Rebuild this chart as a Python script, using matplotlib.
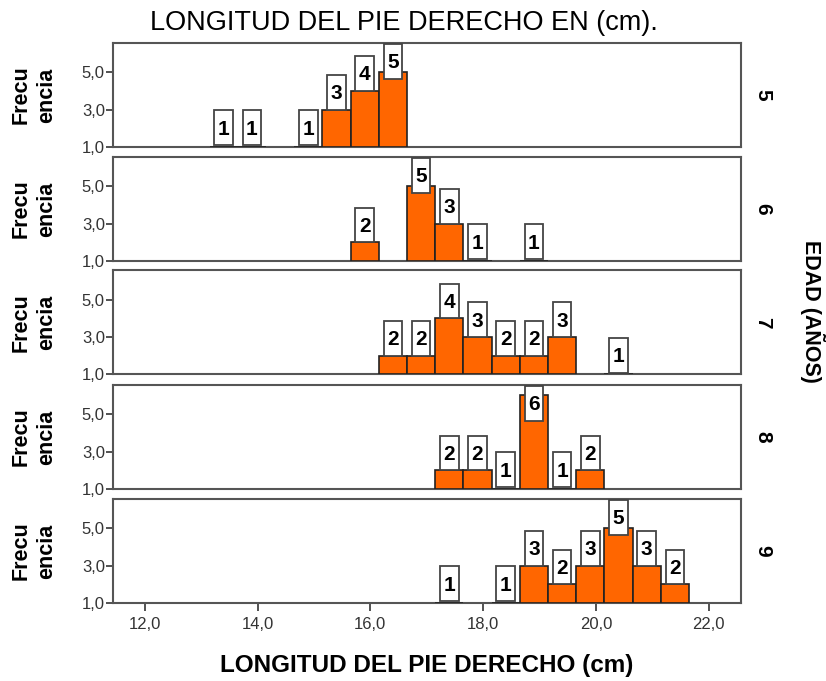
"""Histogramas de longitud del pie derecho por edad."""
import matplotlib
matplotlib.use('Agg')
import matplotlib.pyplot as plt
from matplotlib.patches import Rectangle
from matplotlib.ticker import FuncFormatter

# Datos: centro de clase (cm) y frecuencia, por edad
edades = ['5', '6', '7', '8', '9']
centros = [
    [13.4, 13.9, 14.9, 15.4, 15.9, 16.4],
    [15.9, 16.9, 17.4, 17.9, 18.9],
    [16.4, 16.9, 17.4, 17.9, 18.4, 18.9, 19.4, 20.4],
    [17.4, 17.9, 18.4, 18.9, 19.4, 19.9],
    [17.4, 18.4, 18.9, 19.4, 19.9, 20.4, 20.9, 21.4],
]
frecuencias = [
    [1, 1, 1, 3, 4, 5],
    [2, 5, 3, 1, 1],
    [2, 2, 4, 3, 2, 2, 3, 1],
    [2, 2, 1, 6, 1, 2],
    [1, 1, 3, 2, 3, 5, 3, 2],
]
ancho = 0.5
xticks = [12, 14, 16, 18, 20, 22]
yticks = [1, 3, 5]

plt.rcParams['font.family'] = ['Liberation Sans', 'DejaVu Sans']
naranja = '#ff6600'
gris = '#555555'

fig = plt.figure(figsize=(8.26, 6.81), dpi=100)
left, width, height = 0.137, 0.760, 0.1527
bottoms = [0.7841, 0.6167, 0.4501, 0.2819, 0.1145]
ymin, ymax = 1.0, 6.55
box_w, box_h = 0.33, 1.85

coma = FuncFormatter(lambda v, p: f'{v:.1f}'.replace('.', ','))

for i, (edad, xs, fs) in enumerate(zip(edades, centros, frecuencias)):
    ax = fig.add_axes([left, bottoms[i], width, height])
    ax.bar(xs, [f - 1 for f in fs], width=ancho, bottom=1, color=naranja,
           edgecolor='#222222', linewidth=1.2, zorder=3)
    for x, f in zip(xs, fs):
        yb = min(f, ymax - 0.06 - box_h)
        if f == 1:
            yb = 1.1
        ax.add_patch(Rectangle((x - box_w / 2, yb), box_w, box_h,
                               facecolor='white', edgecolor='#444444',
                               linewidth=1.3, zorder=4))
        ax.text(x, yb + box_h * 0.46, str(f), ha='center', va='center',
                fontsize=15, fontweight='bold', zorder=5)
    ax.set_xlim(11.44, 22.57)
    ax.set_ylim(ymin, ymax)
    ax.set_yticks(yticks)
    ax.yaxis.set_major_formatter(coma)
    ax.tick_params(axis='y', length=5, width=1.2, color='#333333',
                   labelsize=12, labelcolor='#333333', pad=1)
    for s in ax.spines.values():
        s.set_color(gris)
        s.set_linewidth(1.5)
    if i < 4:
        ax.set_xticks([])
    else:
        ax.set_xticks(xticks)
        ax.xaxis.set_major_formatter(coma)
        ax.tick_params(axis='x', length=6, width=1.2, color='#333333',
                       labelsize=12, labelcolor='#333333', pad=4)
        ax.set_xlabel('LONGITUD DEL PIE DERECHO (cm)', fontsize=17.5,
                      fontweight='bold', labelpad=16)
    ax.set_ylabel('Frecu\nencia', fontsize=15.5, fontweight='bold',
                  linespacing=1.25, labelpad=18)
    ax.text(1.035, 0.5, edad, transform=ax.transAxes, rotation=-90,
            ha='center', va='center', fontsize=15, fontweight='bold')

fig.text(0.489, 0.966, 'LONGITUD DEL PIE DERECHO EN (cm).', ha='center',
         va='center', fontsize=19.5)
fig.text(0.984, 0.542, 'EDAD (AÑOS)', rotation=-90, ha='center',
         va='center', fontsize=15.5, fontweight='bold')

fig.savefig('out.png', dpi=100)
